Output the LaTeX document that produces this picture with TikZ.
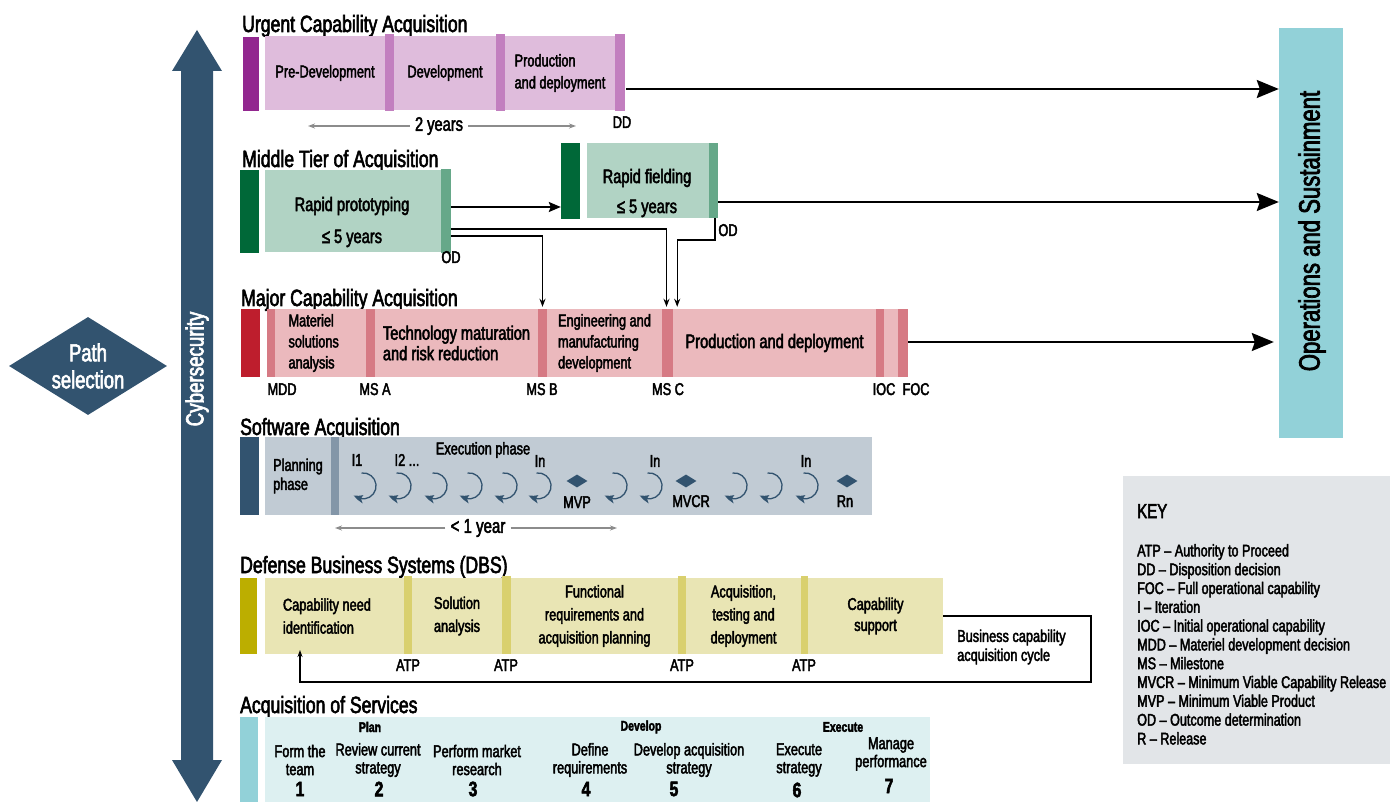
\documentclass[tikz,border=0pt]{standalone}
\usepackage{fontspec}
\setmainfont{Liberation Sans}[FakeStretch=0.75, FakeBold=2.5]
\usepackage{tikz}
\usetikzlibrary{arrows.meta,bending,shapes.geometric}

\definecolor{pathBlue}{RGB}{50,83,111}
\definecolor{ucaDark}{RGB}{146,39,143}
\definecolor{ucaLight}{RGB}{223,188,220}
\definecolor{ucaMid}{RGB}{194,127,191}
\definecolor{mtaDark}{RGB}{0,104,56}
\definecolor{mtaLight}{RGB}{177,211,196}
\definecolor{mtaMid}{RGB}{102,168,137}
\definecolor{mcaDark}{RGB}{190,30,45}
\definecolor{mcaLight}{RGB}{235,185,189}
\definecolor{mcaMid}{RGB}{214,122,132}
\definecolor{swLight}{RGB}{193,203,212}
\definecolor{swMid}{RGB}{131,150,168}
\definecolor{dbsDark}{RGB}{188,174,0}
\definecolor{dbsLight}{RGB}{233,229,180}
\definecolor{dbsMid}{RGB}{217,208,110}
\definecolor{srvDark}{RGB}{146,209,216}
\definecolor{srvLight}{RGB}{221,240,241}
\definecolor{keyFill}{RGB}{226,229,232}
\definecolor{spanGray}{RGB}{140,140,140}

\begin{document}
\begin{tikzpicture}[x=1pt, y=-1pt, inner sep=0pt]
    \tikzstyle{bar_style} = [rectangle, inner sep=0pt]
    \tikzstyle{seg_style} = [rectangle, inner sep=0pt, align=center, font=\fontsize{17}{21}\selectfont]
    \tikzstyle{big_style} = [align=center, font=\fontsize{19.5}{21}\selectfont]
    \tikzstyle{title_style} = [anchor=base west, font=\fontsize{23.5}{25}\selectfont]
    \tikzstyle{mark_style} = [anchor=base, font=\fontsize{17}{20}\selectfont]
    \tikzstyle{item_style} = [align=center, font=\fontsize{17}{18}\selectfont]
    \tikzstyle{num_style} = [font=\fontsize{21}{22}\selectfont\bfseries]
    \tikzstyle{phase_style} = [font=\fontsize{14}{16}\selectfont\bfseries]
    \tikzstyle{ops_arrow} = [-{Stealth[length=22pt,width=18pt,inset=3pt]}, line width=2pt]
    \tikzstyle{field_arrow} = [-{Stealth[length=12pt,width=10pt,inset=2pt]}, line width=1.8pt]
    \tikzstyle{od_arrow} = [-{Stealth[length=8pt,width=6pt]}, line width=1.4pt, shorten >=2pt]
    \tikzstyle{span_arrow} = [-{Stealth[length=7pt,width=5pt]}, draw=spanGray, line width=1.2pt]
    \tikzstyle{iter_style} = [draw=pathBlue, line width=1.3pt, -{Stealth[length=10pt,width=8pt,inset=2pt,bend]}]
    \tikzstyle{release_style} = [diamond, fill=pathBlue, minimum width=21, minimum height=13, inner sep=0pt]

    \useasboundingbox (0,0) rectangle (1390,802);

    % path selection and cybersecurity
    \node[diamond, aspect=1.6, fill=pathBlue, minimum width=158, minimum height=98, text=white, align=center, font=\fontsize{24.5}{27}\selectfont] (path) at (88,366) {Path\\selection};
    \fill[pathBlue] (197,30) -- (222,71) -- (213,71) -- (213,760) -- (222,760) -- (197,802) -- (172,760) -- (181,760) -- (181,71) -- (172,71) -- cycle;
    \node[rotate=90, text=white, font=\fontsize{25}{27}\selectfont] (cyber) at (197,369) {Cybersecurity};

    % operations and sustainment
    \node[fill=srvDark, minimum width=64, minimum height=410] (ops) at (1311,233) {};
    \node[rotate=90, font=\fontsize{29.5}{31}\selectfont] (opsTxt) at (1312,231) {Operations and Sustainment};

    % urgent capability acquisition
    \node[title_style] (ucaTitle) at (242,32) {Urgent Capability Acquisition};
    \node[bar_style, fill=ucaDark, minimum width=16, minimum height=74] (ucaBar) at (251,74) {};
    \node[seg_style, fill=ucaLight, minimum width=120, minimum height=74] (ucaPre) at (325,73) {Pre-Development};
    \node[bar_style, fill=ucaMid, minimum width=9, minimum height=77] (ucaSepA) at (389.5,72.5) {};
    \node[seg_style, fill=ucaLight, minimum width=102, minimum height=74] (ucaDev) at (445,73) {Development};
    \node[bar_style, fill=ucaMid, minimum width=9, minimum height=77] (ucaSepB) at (500.5,72.5) {};
    \node[seg_style, fill=ucaLight, minimum width=110, minimum height=74, align=left, font=\fontsize{17}{22}\selectfont] (ucaProd) at (560,73) {Production\\and deployment};
    \node[bar_style, fill=ucaMid, minimum width=10, minimum height=77] (ucaSepC) at (620,72.5) {};
    \node[mark_style] (ucaDD) at (622,128) {DD};
    \node[font=\fontsize{19.5}{21}\selectfont, inner xsep=5pt] (ucaSpan) at (439,126) {2 years};
    \coordinate (ucaSpanL) at (308,126);
    \coordinate (ucaSpanR) at (576,126);
    \coordinate (ucaOut) at (626,89);

    % middle tier of acquisition
    \node[title_style] (mtaTitle) at (242,167) {Middle Tier of Acquisition};
    \node[bar_style, fill=mtaDark, minimum width=19, minimum height=83] (mtaBar) at (249.5,211.5) {};
    \node[bar_style, fill=mtaLight, minimum width=176, minimum height=82] (mtaProto) at (353,211) {};
    \node[bar_style, fill=mtaMid, minimum width=10, minimum height=84] (mtaSep) at (446,211) {};
    \node[big_style, font=\fontsize{19.5}{32}\selectfont] (mtaProtoTxt) at (352,222) {Rapid prototyping\\≤ 5 years};
    \node[mark_style] (mtaOD) at (451,263) {OD};
    \node[bar_style, fill=mtaDark, minimum width=19, minimum height=76] (mtaBarB) at (570.5,181) {};
    \node[bar_style, fill=mtaLight, minimum width=122, minimum height=75] (mtaField) at (648,180.5) {};
    \node[bar_style, fill=mtaMid, minimum width=9, minimum height=75] (mtaSepB) at (713.5,180.5) {};
    \node[big_style, font=\fontsize{19.5}{30}\selectfont] (mtaFieldTxt) at (647,193) {Rapid fielding\\≤ 5 years};
    \node[mark_style] (mtaODB) at (728,236) {OD};
    \coordinate (mtaOutA) at (451,207);
    \coordinate (mtaOutB) at (718,202);
    \coordinate (mtaOutC) at (451,229);
    \coordinate (mtaOutD) at (451,236);
    \coordinate (mtaOutE) at (715,218);

    % major capability acquisition
    \node[title_style] (mcaTitle) at (241,306) {Major Capability Acquisition};
    \node[bar_style, fill=mcaDark, minimum width=19, minimum height=68] (mcaBar) at (250.5,343) {};
    \node[bar_style, fill=mcaMid, minimum width=8, minimum height=68] (mcaSepMDD) at (271,343) {};
    \node[seg_style, fill=mcaLight, minimum width=91, minimum height=68, align=flush left, text width=64] (mcaMat) at (320.5,343) {Materiel\\solutions\\analysis};
    \node[bar_style, fill=mcaMid, minimum width=9, minimum height=68] (mcaSepA) at (370.5,343) {};
    \node[seg_style, fill=mcaLight, minimum width=163, minimum height=68, align=left, font=\fontsize{19.5}{20.5}\selectfont] (mcaTech) at (456.5,343) {Technology maturation\\and risk reduction};
    \node[bar_style, fill=mcaMid, minimum width=9, minimum height=68] (mcaSepB) at (542.5,343) {};
    \node[seg_style, fill=mcaLight, minimum width=115, minimum height=68, align=left] (mcaEng) at (604.5,343) {Engineering and\\manufacturing\\development};
    \node[bar_style, fill=mcaMid, minimum width=11, minimum height=68] (mcaSepC) at (667.5,343) {};
    \node[seg_style, fill=mcaLight, minimum width=203, minimum height=68, font=\fontsize{19.5}{21}\selectfont] (mcaProd) at (774.5,343) {Production and deployment};
    \node[bar_style, fill=mcaMid, minimum width=8, minimum height=68] (mcaSepIOC) at (880,343) {};
    \node[bar_style, fill=mcaLight, minimum width=14, minimum height=68] (mcaGap) at (891,343) {};
    \node[bar_style, fill=mcaMid, minimum width=10, minimum height=68] (mcaSepFOC) at (903,343) {};
    \node[mark_style] (mcaMDD) at (282,395) {MDD};
    \node[mark_style] (mcaMSA) at (375,395) {MS A};
    \node[mark_style] (mcaMSB) at (542,395) {MS B};
    \node[mark_style] (mcaMSC) at (668,395) {MS C};
    \node[mark_style] (mcaIOC) at (884,395) {IOC};
    \node[mark_style] (mcaFOC) at (916,395) {FOC};
    \coordinate (mcaOut) at (908,342);

    % software acquisition
    \node[title_style] (swTitle) at (240,435) {Software Acquisition};
    \node[bar_style, fill=pathBlue, minimum width=19, minimum height=78] (swBar) at (249.5,476) {};
    \node[seg_style, fill=swLight, minimum width=66, minimum height=78, align=left, font=\fontsize{17}{19}\selectfont] (swPlan) at (298,476) {Planning\\phase};
    \node[bar_style, fill=swMid, minimum width=8, minimum height=78] (swSep) at (335,476) {};
    \node[bar_style, fill=swLight, minimum width=533, minimum height=78] (swExec) at (605.5,476) {};
    \node[seg_style] (swExecTxt) at (483,450) {Execution phase};
    \node[seg_style] (swIterA) at (357,460) {I1};
    \node[seg_style] (swIterB) at (407,460) {I2 ...};
    \node[seg_style] (swIterN) at (540,461) {In};
    \node[seg_style] (swIterNB) at (655,461) {In};
    \node[seg_style] (swIterNC) at (806,461) {In};
    \node[release_style] (swMVP) at (577,481) {};
    \node[release_style] (swMVCR) at (686,481) {};
    \node[release_style] (swRn) at (847,481) {};
    \node[mark_style] (swMVPTxt) at (577,508) {MVP};
    \node[mark_style] (swMVCRTxt) at (691,507) {MVCR};
    \node[mark_style] (swRnTxt) at (845,507) {Rn};
    \draw[iter_style] (361.5,473) arc[start angle=-97, end angle=135, radius=13];
    \draw[iter_style] (396.5,473) arc[start angle=-97, end angle=135, radius=13];
    \draw[iter_style] (432.5,473) arc[start angle=-97, end angle=135, radius=13];
    \draw[iter_style] (467.5,473) arc[start angle=-97, end angle=135, radius=13];
    \draw[iter_style] (502.5,473) arc[start angle=-97, end angle=135, radius=13];
    \draw[iter_style] (536.5,473) arc[start angle=-97, end angle=135, radius=13];
    \draw[iter_style] (612.5,473) arc[start angle=-97, end angle=135, radius=13];
    \draw[iter_style] (647.5,473) arc[start angle=-97, end angle=135, radius=13];
    \draw[iter_style] (732.5,473) arc[start angle=-97, end angle=135, radius=13];
    \draw[iter_style] (767.5,473) arc[start angle=-97, end angle=135, radius=13];
    \draw[iter_style] (803.5,473) arc[start angle=-97, end angle=135, radius=13];
    \node[font=\fontsize{20}{22}\selectfont, inner xsep=5pt] (swSpan) at (478,528) {< 1 year};
    \coordinate (swSpanL) at (335,528);
    \coordinate (swSpanR) at (617,528);

    % defense business systems
    \node[title_style] (dbsTitle) at (240,573) {Defense Business Systems (DBS)};
    \node[bar_style, fill=dbsDark, minimum width=17, minimum height=76] (dbsBar) at (248.5,616) {};
    \node[seg_style, fill=dbsLight, minimum width=139, minimum height=76, align=flush left, text width=103, font=\fontsize{17}{23}\selectfont] (dbsNeed) at (334.5,616) {Capability need\\identification};
    \node[bar_style, fill=dbsMid, minimum width=8, minimum height=78] (dbsSepA) at (408,615) {};
    \node[seg_style, fill=dbsLight, minimum width=90, minimum height=76, font=\fontsize{17}{23}\selectfont] (dbsSol) at (457,616) {Solution\\analysis};
    \node[bar_style, fill=dbsMid, minimum width=9, minimum height=78] (dbsSepB) at (506.5,615) {};
    \node[seg_style, fill=dbsLight, minimum width=167, minimum height=76, font=\fontsize{17}{23}\selectfont] (dbsFunc) at (594.5,616) {Functional\\requirements and\\acquisition planning};
    \node[bar_style, fill=dbsMid, minimum width=8, minimum height=78] (dbsSepC) at (682,615) {};
    \node[seg_style, fill=dbsLight, minimum width=115, minimum height=76, font=\fontsize{17}{23}\selectfont] (dbsAcq) at (743.5,616) {Acquisition,\\testing and\\deployment};
    \node[bar_style, fill=dbsMid, minimum width=7, minimum height=78] (dbsSepD) at (804.5,615) {};
    \node[seg_style, fill=dbsLight, minimum width=135, minimum height=76, font=\fontsize{17}{21}\selectfont] (dbsSup) at (875.5,616) {Capability\\support};
    \node[mark_style] (dbsATPA) at (408,671) {ATP};
    \node[mark_style] (dbsATPB) at (506,671) {ATP};
    \node[mark_style] (dbsATPC) at (682,671) {ATP};
    \node[mark_style] (dbsATPD) at (804,671) {ATP};
    \node[anchor=west, align=left, font=\fontsize{17}{19}\selectfont] (dbsCycle) at (957,647) {Business capability\\acquisition cycle};
    \coordinate (dbsCycleR) at (1091,682);
    \coordinate (dbsCycleTip) at (300,650);

    % acquisition of services
    \node[title_style] (srvTitle) at (240,713) {Acquisition of Services};
    \node[bar_style, fill=srvDark, minimum width=18, minimum height=85] (srvBar) at (249,759.5) {};
    \node[bar_style, fill=srvLight, minimum width=665, minimum height=85] (srvBox) at (597.5,759.5) {};
    \node[phase_style] (srvPlan) at (370,727) {Plan};
    \node[phase_style] (srvDevelop) at (641,727) {Develop};
    \node[phase_style] (srvExecute) at (843,727) {Execute};
    \node[item_style] (srvTeam) at (300,760) {Form the\\team};
    \node[item_style] (srvReview) at (378,760) {Review current\\strategy};
    \node[item_style] (srvMarket) at (477,760) {Perform market\\research};
    \node[item_style] (srvReq) at (590,760) {Define\\requirements};
    \node[item_style] (srvStrat) at (689,760) {Develop acquisition\\strategy};
    \node[item_style] (srvExec) at (799,760) {Execute\\strategy};
    \node[item_style] (srvPerf) at (891,754) {Manage\\performance};
    \node[num_style] (srvNumA) at (300,789) {1};
    \node[num_style] (srvNumB) at (379,789) {2};
    \node[num_style] (srvNumC) at (473,789) {3};
    \node[num_style] (srvNumD) at (586,789) {4};
    \node[num_style] (srvNumE) at (674,789) {5};
    \node[num_style] (srvNumF) at (797,790) {6};
    \node[num_style] (srvNumG) at (889,786) {7};

    % key
    \node[fill=keyFill, minimum width=267, minimum height=288] (key) at (1256.5,620) {};
    \node[anchor=base west, font=\fontsize{20}{22}\selectfont] (keyTitle) at (1137,518) {KEY};
    \node[anchor=north west, align=left, font=\fontsize{16.8}{18.8}\selectfont] (keyList) at (1137,544) {ATP -- Authority to Proceed\\DD -- Disposition decision\\FOC -- Full operational capability\\I -- Iteration\\IOC -- Initial operational capability\\MDD -- Materiel development decision\\MS -- Milestone\\MVCR -- Minimum Viable Capability Release\\MVP -- Minimum Viable Product\\OD -- Outcome determination\\R -- Release};

    % connectors
    \draw[span_arrow] (ucaSpan.west) -- (ucaSpanL);
    \draw[span_arrow] (ucaSpan.east) -- (ucaSpanR);
    \draw[ops_arrow] (ucaOut) -- (ucaOut -| ops.west);
    \draw[field_arrow] (mtaOutA) -- (mtaOutA -| mtaBarB.west);
    \draw[ops_arrow] (mtaOutB) -- (mtaOutB -| ops.west);
    \draw[od_arrow] (mtaOutC) -| ([xshift=-1pt]mcaSepC.north);
    \draw[od_arrow] (mtaOutD) -| (mcaSepB.north);
    \draw[od_arrow] (mtaOutE) -- ++(0,22) -| ([xshift=4pt]mcaSepC.north east);
    \draw[ops_arrow] (mcaOut) -- ([xshift=-5pt]mcaOut -| ops.west);
    \draw[span_arrow] (swSpan.west) -- (swSpanL);
    \draw[span_arrow] (swSpan.east) -- (swSpanR);
    \draw[line width=1.2pt, -{Stealth[length=7pt,width=5pt]}] (dbsSup.east) -| (dbsCycleR) -| (dbsCycleTip);
\end{tikzpicture}
\end{document}
